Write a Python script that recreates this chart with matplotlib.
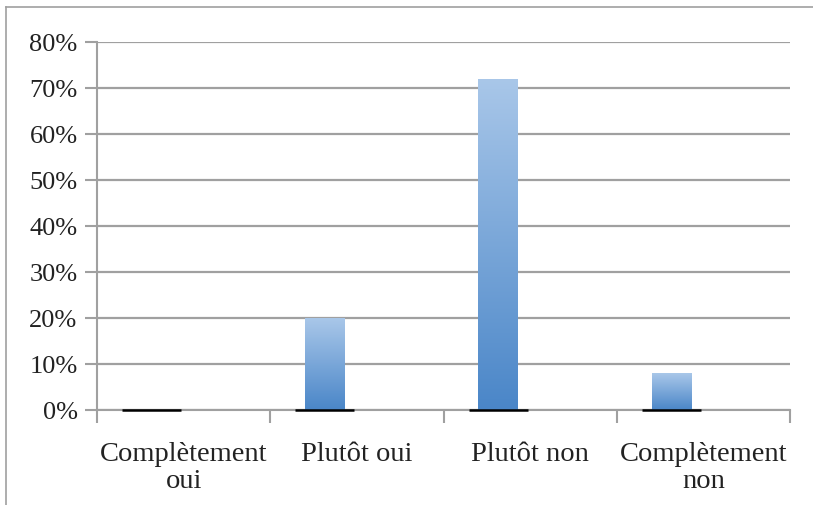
import numpy as np
import matplotlib.pyplot as plt
from matplotlib.patches import Rectangle
from matplotlib.colors import LinearSegmentedColormap
from matplotlib.lines import Line2D

categories = ["Complètement\noui", "Plutôt oui", "Plutôt non", "Complètement\nnon"]
values = [0, 20, 72, 8]
yticks = [0, 10, 20, 30, 40, 50, 60, 70, 80]

plt.rcParams['font.family'] = ['Liberation Serif', 'DejaVu Serif']

W, H = 813, 506
fig = plt.figure(figsize=(W / 100, H / 100), dpi=100)
ax = fig.add_axes([97 / W, 1 - 411 / H, (790 - 97) / W, (411 - 43) / H])

# outer frame of the chart area
fig.add_artist(Line2D([6 / W, 6 / W], [0, 1 - 8 / H], color='#a0a0a0', lw=1.2))
fig.add_artist(Line2D([6 / W, 1], [1 - 8 / H, 1 - 8 / H], color='#a0a0a0', lw=1.2))

x = np.arange(len(categories))
offset = -0.185
bw = 0.226
cmap = LinearSegmentedColormap.from_list('bl', ['#4a86c8', '#a9c7e9'])
grad = np.linspace(0, 1, 256).reshape(-1, 1)

for xi, v in zip(x, values):
    cx = xi + offset
    # black base line under each bar
    ax.plot([cx - 0.17, cx + 0.17], [0, 0], color='black', lw=1.8, zorder=4,
            solid_capstyle='butt', clip_on=False)
    if v > 0:
        r = Rectangle((cx - bw / 2, 0), bw, v, facecolor='none', edgecolor='none')
        ax.add_patch(r)
        im = ax.imshow(grad, cmap=cmap, origin='lower', aspect='auto',
                       extent=[cx - bw / 2, cx + bw / 2, 0, v], zorder=3)
        im.set_clip_path(r)

ax.set_xlim(-0.5, len(categories) - 0.5)
ax.set_ylim(0, 80)

ax.set_yticks(yticks)
ax.set_yticklabels([f"{t}%" for t in yticks])
ax.yaxis.grid(True, color='#a0a0a0', lw=1.6)
ax.set_axisbelow(True)

ax.set_xticks(x)
ax.set_xticklabels(categories, linespacing=1.15)
ax.set_xticks(np.arange(-0.5, len(categories)), minor=True)
ax.tick_params(axis='x', which='major', length=0, pad=22, labelsize=20.5, colors='#222222')
ax.tick_params(axis='x', which='minor', length=9, width=1.5, color='#a0a0a0', direction='out')
ax.tick_params(axis='y', length=9, width=1.5, color='#a0a0a0', labelsize=19, pad=5,
               labelcolor='#222222')

for s in ['top', 'right']:
    ax.spines[s].set_visible(False)
ax.spines['left'].set_color('#a0a0a0')
ax.spines['bottom'].set_color('#a0a0a0')
ax.spines['left'].set_linewidth(1.5)
ax.spines['bottom'].set_linewidth(1.5)

fig.savefig('out.png', dpi=100)
